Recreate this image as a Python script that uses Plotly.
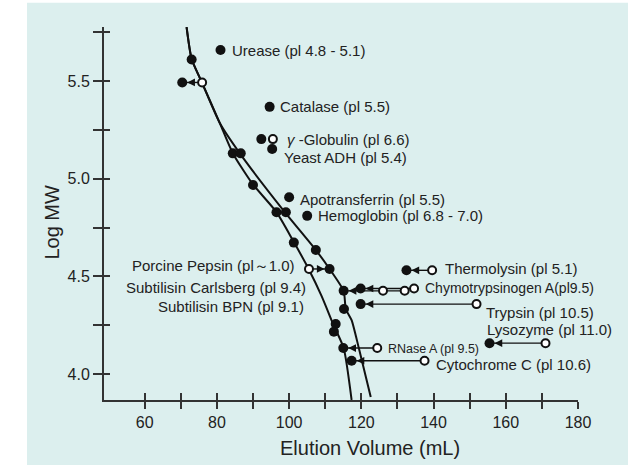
import plotly.graph_objects as go

# ---- calibration curves: elution volume (mL) vs log MW ----
curve_a_vol = [71.6, 73.0, 75.8, 80.8, 84.4, 89.9, 96.5, 101.0, 105.4, 109.0, 112.3, 115.1, 117.3]
curve_a_logmw = [5.776, 5.613, 5.495, 5.285, 5.131, 4.973, 4.829, 4.686, 4.538, 4.399, 4.251, 4.133, 3.867]
curve_b_vol = [71.6, 73.0, 75.8, 80.8, 86.3, 98.8, 107.4, 111.2, 115.1, 115.7, 117.3, 119.3, 122.6]
curve_b_logmw = [5.776, 5.613, 5.495, 5.285, 5.131, 4.829, 4.635, 4.538, 4.425, 4.333, 4.276, 4.133, 3.882]

# ---- unlabeled calibration standards ----
std_vol = [73.0, 84.4, 86.6, 90.0, 96.5, 99.1, 101.3, 107.4, 112.9, 112.4]
std_logmw = [5.611, 5.130, 5.130, 4.968, 4.828, 4.828, 4.673, 4.635, 4.256, 4.217]
# unlabeled standard with shifted elution (open -> filled)
std_shift_open_vol = [75.9]
std_shift_filled_vol = [70.4]
std_shift_logmw = [5.493]

# ---- labeled proteins ----
protein_labels = [
    "Urease (pl 4.8 - 5.1)", "Catalase (pl 5.5)", "<i>γ</i> -Globulin (pl 6.6)",
    "Yeast ADH (pl 5.4)", "Apotransferrin (pl 5.5)", "Hemoglobin (pl 6.8 - 7.0)",
    "Porcine Pepsin (pl～1.0)", "Subtilisin Carlsberg (pl 9.4)", "Subtilisin BPN (pl 9.1)",
    "Thermolysin (pl 5.1)", "Chymotrypsinogen A(pl9.5)", "Trypsin (pl 10.5)",
    "Lysozyme (pl 11.0)", "RNase A (pl 9.5)", "Cytochrome C (pl 10.6)",
]
filled_vol = [81.0, 94.6, 92.3, 95.3, 100.0, 105.0, 111.2, 115.1, 115.2,
              132.5, 119.8, 119.8, 155.5, 115.0, 117.3]
filled_logmw = [5.659, 5.368, 5.203, 5.152, 4.905, 4.810, 4.538, 4.426, 4.333,
                4.531, 4.438, 4.358, 4.158, 4.133, 4.068]
open_vol = [None, None, 95.5, None, None, None, 105.5, 132.0, None,
            139.6, 134.6, 151.9, 171.0, 124.4, 137.5]
# second open measurement of Subtilisin Carlsberg
extra_open_vol = [126.0]
extra_open_logmw = [4.426]

x_tickvals = [60, 70, 80, 90, 100, 110, 120, 130, 140, 150, 160, 170, 180]
x_ticktext = ["60", "", "80", "", "100", "", "120", "", "140", "", "160", "", "180"]
y_tickvals = [4.0, 4.25, 4.5, 4.75, 5.0, 5.25, 5.5, 5.75]
y_ticktext = ["4.0", "", "4.5", "", "5.0", "", "5.5", ""]

# label placement: (anchor on open circle?, xanchor, xshift, yshift, font size)
label_style = [
    (False, "left", 9, 0, 15), (False, "left", 8, 0, 15), (True, "left", 12, 0, 15),
    (False, "left", 10, -8, 15), (False, "left", 9, -2.5, 15), (False, "left", 9, 0, 15),
    (True, "right", -12, 3.5, 15), (False, "right", -36, 3.5, 15), (False, "right", -38, 2.5, 15),
    (True, "left", 11, 1.5, 15), (True, "left", 9, 0, 14), (True, "left", 7, -8, 15),
    (False, "left", -4.5, 14, 15), (True, "left", 9, -1, 12.5), (True, "left", 9, -3.5, 15),
]

INK = "#111111"
TEXT = "#222222"
PANEL = "#dcefee"
FONT = "Arial, Liberation Sans, sans-serif"
X_RANGE = [48.73, 180]
Y_RANGE = [3.867, 5.777]

fig = go.Figure()

# connector lines between open and filled markers
seg_x, seg_y = [], []
for fv, lv, ov in zip(filled_vol, filled_logmw, open_vol):
    if ov is not None and abs(ov - fv) > 5:
        seg_x += [ov, fv, None]
        seg_y += [lv, lv, None]
for ov, fv, lv in zip(std_shift_open_vol, std_shift_filled_vol, std_shift_logmw):
    seg_x += [ov, fv, None]
    seg_y += [lv, lv, None]
fig.add_trace(go.Scatter(x=seg_x, y=seg_y, mode="lines",
                         line=dict(color=INK, width=1.4), hoverinfo="skip"))

# calibration curves
for cx, cy in ((curve_a_vol, curve_a_logmw), (curve_b_vol, curve_b_logmw)):
    fig.add_trace(go.Scatter(x=cx, y=cy, mode="lines",
                             line=dict(color=INK, width=2, shape="spline", smoothing=0.6),
                             hoverinfo="skip"))

# filled markers
all_filled_x = std_vol + std_shift_filled_vol + filled_vol
all_filled_y = std_logmw + std_shift_logmw + filled_logmw
fig.add_trace(go.Scatter(x=all_filled_x, y=all_filled_y, mode="markers",
                         marker=dict(size=10, color=INK, line=dict(width=0))))

# open markers
op_x = [v for v in open_vol if v is not None] + std_shift_open_vol + extra_open_vol
op_y = [l for v, l in zip(open_vol, filled_logmw) if v is not None] + std_shift_logmw + extra_open_logmw
fig.add_trace(go.Scatter(x=op_x, y=op_y, mode="markers",
                         marker=dict(size=8, color="white", line=dict(color=INK, width=2))))

# invisible trace holding the overlay axes used for the inner half of the ticks
fig.add_trace(go.Scatter(x=[X_RANGE[0]], y=[Y_RANGE[0]], xaxis="x2", yaxis="y2",
                         mode="markers", marker=dict(opacity=0), hoverinfo="skip"))

annotations = []
# arrowheads pointing at the filled markers
arrow_pairs = [(fv, lv, ov) for fv, lv, ov in zip(filled_vol, filled_logmw, open_vol)
               if ov is not None and abs(ov - fv) > 5]
arrow_pairs += list(zip(std_shift_filled_vol, std_shift_logmw, std_shift_open_vol))
for fv, lv, ov in arrow_pairs:
    annotations.append(dict(x=fv, y=lv, xref="x", yref="y", ax=12 if ov > fv else -12, ay=0,
                            text="", showarrow=True, arrowhead=2, arrowsize=1.1,
                            arrowwidth=1.4, arrowcolor=INK, standoff=5))

# protein labels
for lab, fv, lv, ov, (on_open, xa, xs, ys, fs) in zip(protein_labels, filled_vol, filled_logmw,
                                                       open_vol, label_style):
    ax_ = ov if (on_open and ov is not None) else fv
    annotations.append(dict(x=ax_, y=lv, xref="x", yref="y", text=lab, showarrow=False,
                            xanchor=xa, yanchor="middle", xshift=xs, yshift=ys,
                            font=dict(family=FONT, size=fs, color=TEXT)))

# axis titles
annotations.append(dict(x=0.561, y=-0.129, xref="paper", yref="paper", text="Elution Volume (mL)",
                        showarrow=False, xanchor="center", yanchor="middle",
                        font=dict(family=FONT, size=20, color=TEXT)))
annotations.append(dict(x=-0.11, y=0.478, xref="paper", yref="paper", text="Log MW",
                        showarrow=False, xanchor="center", yanchor="middle", textangle=-90,
                        font=dict(family=FONT, size=20, color=TEXT)))

axis_common = dict(showgrid=False, zeroline=False, tickcolor="#333333", tickwidth=1.5)

fig.update_layout(
    width=636, height=465,
    margin=dict(l=104, r=58, t=27, b=65),
    paper_bgcolor="white",
    plot_bgcolor=PANEL,
    showlegend=False,
    font=dict(family=FONT, color=TEXT),
    shapes=[dict(type="rect", xref="paper", yref="paper", x0=-0.1624, x1=1.1055,
                 y0=-0.1744, y1=1.0652, fillcolor=PANEL, line=dict(width=0), layer="below")],
    annotations=annotations,
    xaxis=dict(range=X_RANGE, tickmode="array", tickvals=x_tickvals, ticktext=x_ticktext,
               ticks="outside", ticklen=7, showline=True, linecolor="#333333", linewidth=2,
               tickfont=dict(family=FONT, size=16, color=TEXT), **axis_common),
    yaxis=dict(range=Y_RANGE, tickmode="array", tickvals=y_tickvals, ticktext=y_ticktext,
               ticks="outside", ticklen=9, showline=True, linecolor="#333333", linewidth=2,
               tickfont=dict(family=FONT, size=16, color=TEXT), **axis_common),
    xaxis2=dict(range=X_RANGE, overlaying="x", anchor="y", side="bottom", tickmode="array",
                tickvals=x_tickvals, ticks="inside", ticklen=7, showticklabels=False,
                showline=False, **axis_common),
    yaxis2=dict(range=Y_RANGE, overlaying="y", anchor="x", side="left", tickmode="array",
                tickvals=y_tickvals, ticks="inside", ticklen=6, showticklabels=False,
                showline=False, **axis_common),
)

fig.write_html("out.html")
